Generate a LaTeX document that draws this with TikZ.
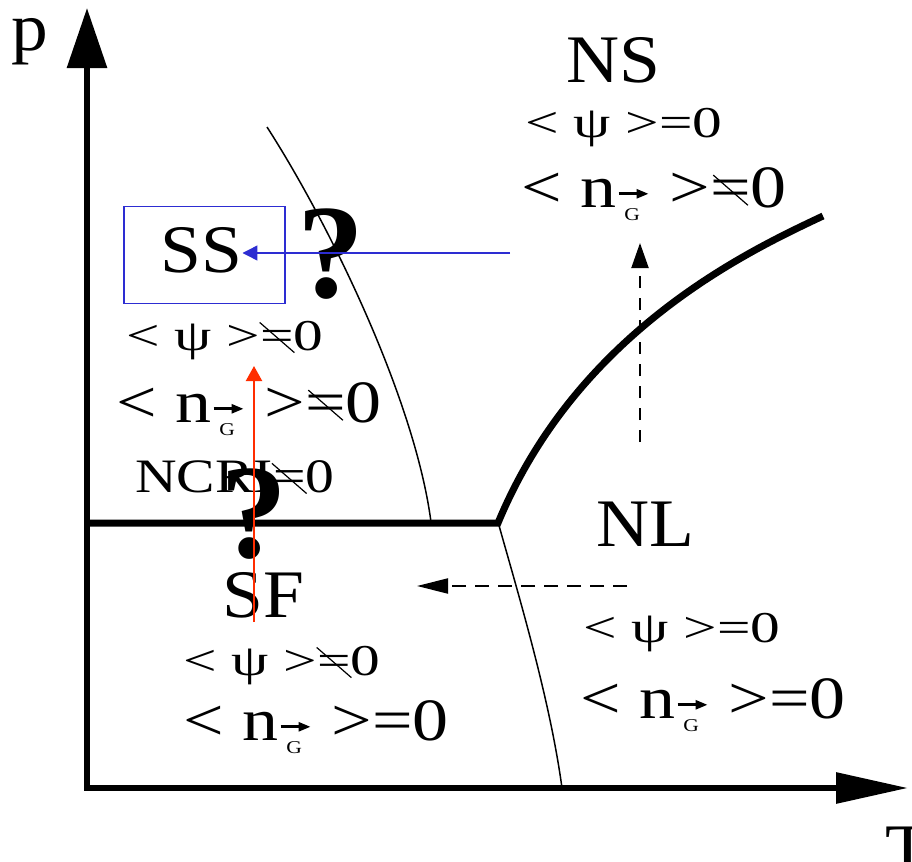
\documentclass[tikz,border=0pt]{standalone}
\usepackage{fontspec}
\setmainfont{Liberation Serif}
\newfontfamily\labelfont{Liberation Serif}[FakeStretch=1.08]
\newfontfamily\rowfont{Liberation Serif}[FakeStretch=1.2]
\newfontfamily\psifont{Liberation Serif}[FakeStretch=1.35]
\usetikzlibrary{arrows.meta}
\definecolor{SSBlue}{RGB}{45,45,210}
\definecolor{PathRed}{RGB}{255,45,0}
%% struck-through equals sign and the n with vector G index
\newcommand{\nq}{\ooalign{=\cr\hidewidth\raisebox{0.27em}{\rotatebox[origin=c]{-41}{\rule{23pt}{0.6pt}}}\hidewidth\cr}}
\newcommand{\nG}{n\kern0.02em\rlap{\kern0.12em\raisebox{-0.23em}{\scalebox{0.3}{G}}}%
  \tikz[baseline=0pt]\draw[line width=0.045em,-{Triangle[length=0.2em,width=0.15em]}]
    (0pt,0.22em) -- (0.5em,0.22em);\kern0.33em}

\begin{document}
\begin{tikzpicture}[x=0.5pt,y=-0.5pt,
    bigfont/.style={font=\labelfont\fontsize{34}{34}\selectfont,inner sep=0,anchor=base west},
    psirow/.style={font=\psifont\fontsize{22}{22}\selectfont,inner sep=0,anchor=base west},
    ncrirow/.style={font=\rowfont\fontsize{24}{24}\selectfont,inner sep=0,anchor=base west},
    nrow/.style={font=\rowfont\fontsize{30}{30}\selectfont,inner sep=0,anchor=base west},
    qmark/.style={font=\fontsize{67}{67}\selectfont\bfseries,inner sep=0,anchor=base},
    thinline/.style={line width=0.75pt},
    phase/.style={line width=3.5pt,line join=miter},
    dasharrow/.style={line width=1pt,dash pattern=on 6pt off 5pt,
                      -{Triangle[length=12.5pt,width=8.5pt]}}]
  \clip (0,0) rectangle (912,862);
  %% Axes
  \coordinate (O) at (87,788);
  \coordinate (ptip) at (87,8);
  \coordinate (Ttip) at (908,788);
  \draw[line width=3pt,line join=miter,
        {Triangle[length=30pt,width=19.5pt]}-{Triangle[length=36pt,width=15pt]}]
       (ptip) -- (O) -- (Ttip);
  \node[bigfont,text height=0.46em] (plabel) at (11,50) {p};
  \node[bigfont] (Tlabel) at (885,871) {T};
  %% Thin phase boundaries
  \draw[thinline] (267,127) .. controls (330,225) and (415,400) .. (431,522);
  \draw[thinline] (498,522) .. controls (520,600) and (550,700) .. (562,788);
  %% Thick phase boundary with the triple point
  \coordinate (tri) at (498,523);
  \draw[phase] (87,523) -- (tri) .. controls (578,330) and (751,250) .. (823,216);
  %% Phase labels
  \node[bigfont] (NS) at (566,83) {NS};
  \node[psirow] (NSpsi) at (525,137) {< ψ >=0};
  \node[nrow] (NSn) at (521,207) {< \nG>\nq0};
  \node[bigfont] (SS) at (160,272) {SS};
  \node[psirow] (SSpsi) at (126,350) {< ψ >\nq0};
  \node[nrow] (SSn) at (116,422) {< \nG>\nq0};
  \node[ncrirow] (NCRI) at (135,492) {NCRI\nq0};
  \node[bigfont] (SF) at (222,617) {SF};
  \node[psirow] (SFpsi) at (183,675) {< ψ >\nq0};
  \node[nrow] (SFn) at (183,740) {< \nG>=0};
  \node[bigfont] (NL) at (596,546) {NL};
  \node[psirow] (NLpsi) at (583,642) {< ψ >=0};
  \node[nrow] (NLn) at (580,718) {< \nG>=0};
  %% Question marks
  \node[qmark] (q1) at (331,297) {?};
  \node[qmark] (q2) at (254,557) {?};
  %% Red path through the SF/SS boundary
  \coordinate (redfoot) at (254,622);
  \coordinate (redtip) at (254,366);
  \draw[PathRed,line width=1.1pt,-{Triangle[length=7.5pt,width=8pt]}]
       (redfoot) -- (redtip);
  %% Blue box and arrow into SS
  \node[draw=SSBlue,line width=0.7pt,minimum width=80.5pt,minimum height=48.5pt,
        inner sep=0] (SSbox) at (204.5,255) {};
  \coordinate (bluesrc) at (510,253);
  \draw[SSBlue,line width=0.7pt,-{Triangle[length=7.5pt,width=7.5pt]}]
       (bluesrc) -- (bluesrc -| SS.east);
  %% Dashed arrows out of NL
  \coordinate (NLup) at (640,442);
  \coordinate (NSdown) at (640,243);
  \draw[dasharrow] (NLup) -- (NSdown);
  \coordinate (NLleft) at (627,586);
  \coordinate (SFright) at (417,586);
  \draw[dasharrow,dash pattern=on 7pt off 4.5pt,
        -{Triangle[length=15.5pt,width=7.5pt]}] (NLleft) -- (SFright);
\end{tikzpicture}
\end{document}
